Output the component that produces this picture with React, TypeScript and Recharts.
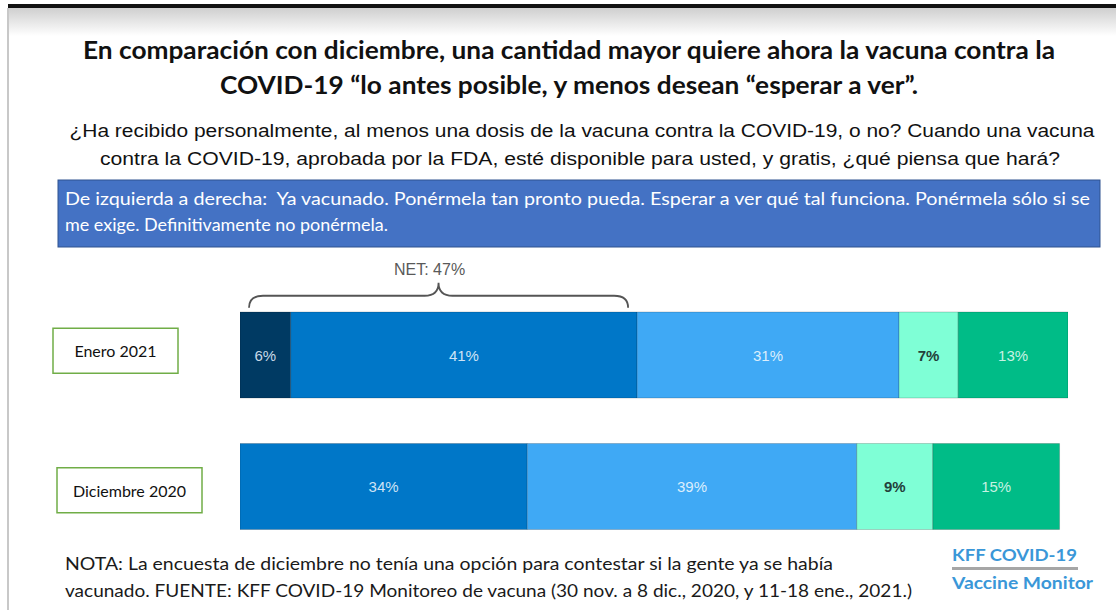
import React from "react";
import { BarChart, Bar, XAxis, YAxis, LabelList, ReferenceArea } from "recharts";

const periods = ["Enero 2021", "Diciembre 2020"];
const yaVacunado: (number | null)[] = [6, null];
const prontoPosible = [41, 34];
const esperarVer = [31, 39];
const soloSiExige = [7, 9];
const definitivamenteNo = [13, 15];
const netValue = 47;
const netLabel = "NET: 47%";
const maxTotal = 98;

const data = periods.map((p, i) => ({
  period: p,
  vacunado: yaVacunado[i],
  pronto: prontoPosible[i],
  esperar: esperarVer[i],
  exige: soloSiExige[i],
  no: definitivamenteNo[i],
}));

const BAR_SIZE = 86;
const CAL = "Lato, 'Open Sans', sans-serif";
const ARIAL = "'Liberation Sans', Arial, sans-serif";

const series = [
  { key: "vacunado", color: "#003a63", text: "#c9d9e8", weight: 400 },
  { key: "pronto", color: "#0077c8", text: "#cfe3f5", weight: 400 },
  { key: "esperar", color: "#3fa9f5", text: "#dceefc", weight: 400 },
  { key: "exige", color: "#7fffd6", text: "#23403a", weight: 700 },
  { key: "no", color: "#00bc87", text: "#c7f2e3", weight: 400 },
];

const makeLabel = (fill: string, weight: number) => (props: any) => {
  const { x, y, width, height, value } = props;
  if (value === null || value === undefined || value === 0) return null;
  return (
    <text
      x={x + width / 2}
      y={y + height / 2}
      textAnchor="middle"
      dominantBaseline="central"
      fill={fill}
      fontFamily={ARIAL}
      fontSize={15}
      fontWeight={weight}
    >
      {value}%
    </text>
  );
};

const boxGeom = [
  { x: 53, w: 125, dy: -4 },
  { x: 57, w: 145, dy: 4 },
];

const RowTick = (props: any) => {
  const { y, payload, index } = props;
  const g = boxGeom[index] || boxGeom[0];
  const h = 45;
  const cy = y + g.dy;
  return (
    <g>
      <rect x={g.x} y={cy - h / 2} width={g.w} height={h} fill="#fff" stroke="#70ad47" strokeWidth={1.5} />
      <text
        x={g.x + g.w / 2}
        y={cy}
        textAnchor="middle"
        dominantBaseline="central"
        fontFamily={CAL}
        fontSize={16}
        fill="#111"
      >
        {payload.value}
      </text>
    </g>
  );
};

const BraceShape = (props: any) => {
  const { x, y, width, height } = props;
  const center = y + height / 2;
  const barTop = center - BAR_SIZE / 2;
  const xa = x + 9;
  const xb = x + width - 9;
  const xm = (xa + xb) / 2;
  const yEnd = barTop - 4;
  const yFlat = barTop - 16;
  const yPeak = barTop - 29;
  const r = 14;
  const d = `M ${xa} ${yEnd} Q ${xa} ${yFlat} ${xa + r} ${yFlat} L ${xm - r} ${yFlat} Q ${xm} ${yFlat} ${xm} ${yPeak} Q ${xm} ${yFlat} ${xm + r} ${yFlat} L ${xb - r} ${yFlat} Q ${xb} ${yFlat} ${xb} ${yEnd}`;
  return (
    <g>
      <path d={d} fill="none" stroke="#555" strokeWidth={1.8} />
      <text
        x={xm - 9}
        y={yPeak - 8}
        textAnchor="middle"
        fontFamily={ARIAL}
        fontSize={16}
        fill="#595959"
      >
        {netLabel}
      </text>
    </g>
  );
};

export default function App() {
  return (
    <div style={{ position: "absolute", left: 0, top: 0, width: 1116, height: 610, background: "#fff", overflow: "hidden" }}>
      <svg width={1116} height={610} style={{ position: "absolute", left: 0, top: 0 }}>
        <defs>
          <linearGradient id="topg" x1="0" y1="0" x2="0" y2="1">
            <stop offset="0%" stopColor="#cfcfcf" />
            <stop offset="100%" stopColor="#ffffff" />
          </linearGradient>
        </defs>
        <rect x={8} y={8} width={1108} height={28} fill="url(#topg)" />
        <rect x={8} y={4} width={1108} height={4} fill="#111" />
        <rect x={7} y={8} width={2} height={602} fill="#c8c8c8" />

        <text x={569} y={59} textAnchor="middle" fontFamily={CAL} fontWeight={700} fontSize={24} fill="#111" textLength={972} lengthAdjust="spacingAndGlyphs">
          En comparación con diciembre, una cantidad mayor quiere ahora la vacuna contra la
        </text>
        <text x={569} y={94} textAnchor="middle" fontFamily={CAL} fontWeight={700} fontSize={24} fill="#111" textLength={698} lengthAdjust="spacingAndGlyphs">
          COVID-19 “lo antes posible, y menos desean “esperar a ver”.
        </text>

        <text x={582} y={137} textAnchor="middle" fontFamily={ARIAL} fontSize={17.5} fill="#111" textLength={1025} lengthAdjust="spacingAndGlyphs">
          ¿Ha recibido personalmente, al menos una dosis de la vacuna contra la COVID-19, o no? Cuando una vacuna
        </text>
        <text x={580} y={165} textAnchor="middle" fontFamily={ARIAL} fontSize={17.5} fill="#111" textLength={960} lengthAdjust="spacingAndGlyphs">
          contra la COVID-19, aprobada por la FDA, esté disponible para usted, y gratis, ¿qué piensa que hará?
        </text>

        <rect x={58} y={180} width={1042} height={67} fill="#4472c4" stroke="#2f528f" strokeWidth={1} />
        <text x={65} y={205} fontFamily={CAL} fontSize={17} fill="#fff" textLength={1025} lengthAdjust="spacingAndGlyphs" style={{ whiteSpace: "pre" }}>
          {"De izquierda a derecha:  Ya vacunado. Ponérmela tan pronto pueda. Esperar a ver qué tal funciona. Ponérmela sólo si se"}
        </text>
        <text x={65} y={231} fontFamily={CAL} fontSize={17} fill="#fff" textLength={323} lengthAdjust="spacingAndGlyphs">
          me exige. Definitivamente no ponérmela.
        </text>

        <text x={65} y={570} fontFamily={CAL} fontSize={16.5} fill="#1a1a1a" textLength={768} lengthAdjust="spacingAndGlyphs">
          NOTA: La encuesta de diciembre no tenía una opción para contestar si la gente ya se había
        </text>
        <text x={65} y={597} fontFamily={CAL} fontSize={16.5} fill="#1a1a1a" textLength={847} lengthAdjust="spacingAndGlyphs">
          vacunado. FUENTE: KFF COVID-19 Monitoreo de vacuna (30 nov. a 8 dic., 2020, y 11-18 ene., 2021.)
        </text>

        <text x={952} y={561} fontFamily={CAL} fontWeight={700} fontSize={17} fill="#3a97d8" textLength={125} lengthAdjust="spacingAndGlyphs">
          KFF COVID-19
        </text>
        <rect x={952} y={567} width={126} height={3} fill="#a6a6a6" />
        <text x={952} y={589} fontFamily={CAL} fontWeight={700} fontSize={17} fill="#3a97d8" textLength={141} lengthAdjust="spacingAndGlyphs">
          Vaccine Monitor
        </text>
      </svg>

      <div style={{ position: "absolute", left: 0, top: 0 }}>
        <BarChart
          width={1116}
          height={610}
          data={data}
          layout="vertical"
          margin={{ top: 289, right: 48, bottom: 58, left: 0 }}
          barCategoryGap={0}
        >
          <XAxis type="number" hide domain={[0, maxTotal]} allowDataOverflow />
          <YAxis
            type="category"
            dataKey="period"
            width={240}
            axisLine={false}
            tickLine={false}
            tick={<RowTick />}
            interval={0}
          />
          {series.map((s) => (
            <Bar
              key={s.key}
              dataKey={s.key}
              stackId="a"
              fill={s.color}
              stroke="rgba(0,0,0,0.18)"
              strokeWidth={1}
              barSize={BAR_SIZE}
              isAnimationActive={false}
            >
              <LabelList dataKey={s.key} content={makeLabel(s.text, s.weight)} />
            </Bar>
          ))}
          <ReferenceArea
            x1={0}
            x2={netValue}
            y1={periods[0]}
            y2={periods[0]}
            ifOverflow="visible"
            shape={(p: any) => <BraceShape {...p} />}
          />
        </BarChart>
      </div>
    </div>
  );
}
